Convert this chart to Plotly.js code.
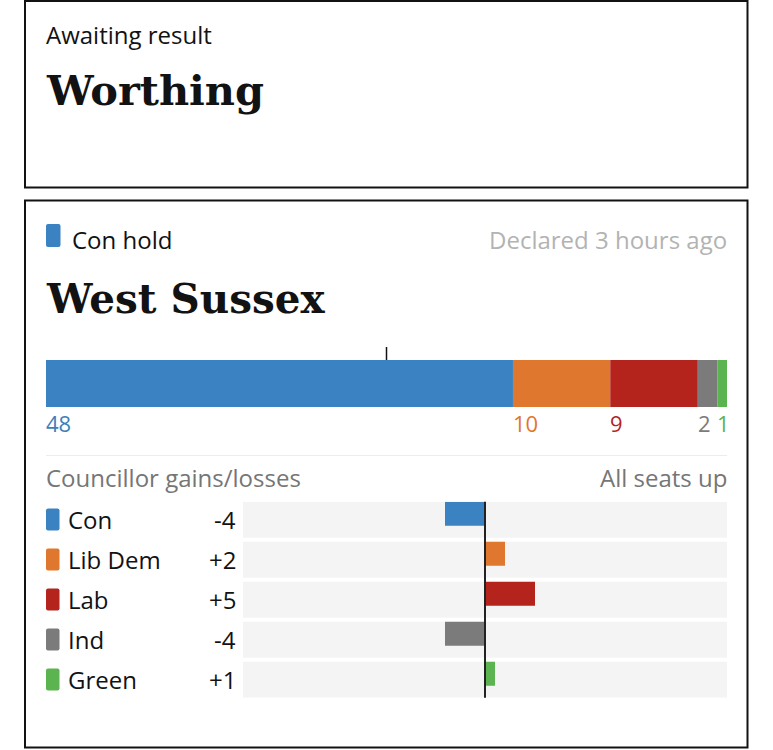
<!DOCTYPE html>
<html>
<head>
<meta charset="utf-8">
<script src="https://cdn.plot.ly/plotly-3.0.1.min.js"></script>
<style>html,body{margin:0;padding:0;background:#fff;}#chart{width:773px;height:750px;}</style>
</head>
<body>
<div id="chart"></div>
<script>
// ---- data ----
const pendingStatus = 'Awaiting result';
const pendingCouncil = 'Worthing';
const councilName = 'West Sussex';
const resultLabel = 'Con hold';
const declaredText = 'Declared 3 hours ago';
const changesTitle = 'Councillor gains/losses';
const seatsNote = 'All seats up';
const parties = ['Con', 'Lib Dem', 'Lab', 'Ind', 'Green'];
const seats = [48, 10, 9, 2, 1];
const changes = [-4, 2, 5, -4, 1];
const changeLabels = ['-4', '+2', '+5', '-4', '+1'];
const partyColors = ['#3a82c1', '#e0772e', '#b4241c', '#7b7b7b', '#5bb450'];
const labelColors = ['#3d7fb9', '#e0772e', '#b4241c', '#7b7b7b', '#5bb450'];

// ---- layout helpers ----
const W = 773, H = 750;
const px = v => v / W;
const py = v => 1 - v / H;
const SANS = 'Open Sans, Noto Sans, sans-serif';
const SERIF = 'DejaVu Serif, serif';

const total = seats.reduce((a, b) => a + b, 0);

const traces = [];
parties.forEach((p, i) => {
  traces.push({
    type: 'bar', orientation: 'h',
    x: [seats[i]], y: [councilName],
    xaxis: 'x', yaxis: 'y', width: 1,
    marker: {color: partyColors[i], line: {width: 0}},
    hoverinfo: 'skip', showlegend: false
  });
});
traces.push({
  type: 'bar', orientation: 'h',
  x: changes, y: parties,
  xaxis: 'x2', yaxis: 'y2',
  width: 0.6, offset: -0.45,
  marker: {color: partyColors, line: {width: 0}},
  hoverinfo: 'skip', showlegend: false
});

const shapes = [];
const annotations = [];

// rounded rectangle path (rx, ry in the units of the refs)
function roundRect(x0, x1, y0, y1, rx, ry) {
  return 'M' + (x0 + rx) + ',' + y0 + ' L' + (x1 - rx) + ',' + y0 +
    ' Q' + x1 + ',' + y0 + ' ' + x1 + ',' + (y0 + ry) +
    ' L' + x1 + ',' + (y1 - ry) + ' Q' + x1 + ',' + y1 + ' ' + (x1 - rx) + ',' + y1 +
    ' L' + (x0 + rx) + ',' + y1 + ' Q' + x0 + ',' + y1 + ' ' + x0 + ',' + (y1 - ry) +
    ' L' + x0 + ',' + (y0 + ry) + ' Q' + x0 + ',' + y0 + ' ' + (x0 + rx) + ',' + y0 + ' Z';
}

// boxes
shapes.push({type: 'rect', xref: 'paper', yref: 'paper', x0: px(25), x1: px(747.5), y0: py(1), y1: py(187.5),
  line: {color: '#121212', width: 2}, fillcolor: 'rgba(0,0,0,0)'});
shapes.push({type: 'rect', xref: 'paper', yref: 'paper', x0: px(25), x1: px(747.5), y0: py(200.5), y1: py(747.5),
  line: {color: '#121212', width: 2}, fillcolor: 'rgba(0,0,0,0)'});

// header swatch
shapes.push({type: 'path', xref: 'paper', yref: 'paper',
  path: roundRect(px(46), px(60.5), py(247), py(224), px(2), 2 / H),
  line: {width: 0}, fillcolor: partyColors[0]});

// majority marker
shapes.push({type: 'line', xref: 'x', yref: 'paper', x0: total / 2, x1: total / 2, y0: py(347), y1: py(360),
  line: {color: '#121212', width: 1.5}});

// separator
shapes.push({type: 'line', xref: 'paper', yref: 'paper', x0: px(46), x1: px(727), y0: py(455.5), y1: py(455.5),
  line: {color: '#ececec', width: 1}});

// row backgrounds, swatches, labels
parties.forEach((p, i) => {
  shapes.push({type: 'rect', xref: 'x2 domain', yref: 'y2', x0: 0, x1: 1, y0: i - 0.45, y1: i + 0.45,
    line: {width: 0}, fillcolor: '#f4f4f4', layer: 'below'});
  shapes.push({type: 'path', xref: 'paper', yref: 'y2',
    path: roundRect(px(46), px(59.5), i - 0.28, i + 0.27, px(2), 0.05),
    line: {width: 0}, fillcolor: partyColors[i]});
  annotations.push({xref: 'paper', yref: 'y2', x: px(66), y: i, xanchor: 'left', yanchor: 'middle',
    text: p, showarrow: false, font: {family: SANS, size: 24, color: '#121212'}});
  annotations.push({xref: 'paper', yref: 'y2', x: px(238), y: i, xanchor: 'right', yanchor: 'middle',
    text: changeLabels[i], showarrow: false, font: {family: SANS, size: 24, color: '#121212'}});
});
// zero line
shapes.push({type: 'line', xref: 'x2', yref: 'y2 domain', x0: 0, x1: 0, y0: 0, y1: 1,
  line: {color: '#222', width: 2}});

// seat labels under the bar
let cum = 0;
seats.forEach((s, i) => {
  annotations.push({xref: 'x', yref: 'paper', x: cum, y: py(423), xanchor: 'left', yanchor: 'middle',
    text: String(s), showarrow: false, xshift: -2,
    font: {family: SANS, size: 22, color: labelColors[i]}});
  cum += s;
});

// text
const txt = (t, x, y, opts) => Object.assign({xref: 'paper', yref: 'paper', x: px(x), y: py(y),
  xanchor: 'left', yanchor: 'middle', text: t, showarrow: false}, opts);
annotations.push(txt(pendingStatus, 44, 35, {font: {family: SANS, size: 24, color: '#121212'}}));
annotations.push(txt('<b>' + pendingCouncil + '</b>', 44, 90, {font: {family: SERIF, size: 41.5, color: '#121212'}}));
annotations.push(txt(resultLabel, 70, 239, {font: {family: SANS, size: 24, color: '#121212'}}));
annotations.push(txt(declaredText, 729, 239, {xanchor: 'right', font: {family: SANS, size: 24, color: '#b3b3b3'}}));
annotations.push(txt('<b>' + councilName + '</b>', 44, 299, {font: {family: SERIF, size: 40.5, color: '#121212'}}));
annotations.push(txt(changesTitle, 44, 477, {font: {family: SANS, size: 24, color: '#767676'}}));
annotations.push(txt(seatsNote, 729, 477, {xanchor: 'right', font: {family: SANS, size: 24, color: '#767676'}}));

const hidden = {visible: false, showgrid: false, zeroline: false, fixedrange: true};
const layout = {
  width: W, height: H,
  margin: {l: 0, r: 0, t: 0, b: 0},
  paper_bgcolor: '#fff', plot_bgcolor: 'rgba(0,0,0,0)',
  barmode: 'relative',
  showlegend: false,
  xaxis: Object.assign({domain: [px(46), px(727)], range: [0, total], anchor: 'y'}, hidden),
  yaxis: Object.assign({domain: [py(407), py(360)], range: [-0.5, 0.5], anchor: 'x', type: 'category'}, hidden),
  xaxis2: Object.assign({domain: [px(243), px(727)], range: [-24.2, 24.2], anchor: 'y2'}, hidden),
  yaxis2: Object.assign({domain: [py(697.7), py(501.7)], range: [4.45, -0.45], anchor: 'x2', type: 'category',
    categoryorder: 'array', categoryarray: parties}, hidden),
  shapes: shapes,
  annotations: annotations
};
Plotly.newPlot('chart', traces, layout, {staticPlot: true, displayModeBar: false});
</script>
</body>
</html>
